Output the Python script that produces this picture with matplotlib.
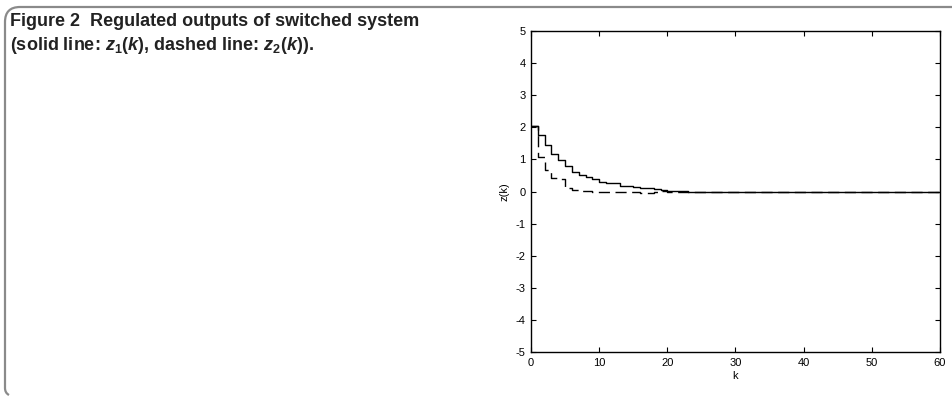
import numpy as np
import matplotlib.pyplot as plt
from matplotlib.path import Path
from matplotlib.patches import PathPatch

plt.rcParams['font.family'] = ['Liberation Sans', 'DejaVu Sans']
plt.rcParams['axes.unicode_minus'] = False
plt.rcParams['mathtext.fontset'] = 'custom'
plt.rcParams['mathtext.bf'] = 'Liberation Sans:bold'
plt.rcParams['mathtext.bfit'] = 'Liberation Sans:bold:italic'
plt.rcParams['mathtext.it'] = 'Liberation Sans:italic'
plt.rcParams['mathtext.rm'] = 'Liberation Sans'

# regulated outputs (k = 0..60)
k = np.arange(0, 61)
z1_head = [2.03, 1.75, 1.44, 1.16, 0.99, 0.79, 0.60, 0.52, 0.45, 0.38,
           0.29, 0.26, 0.26, 0.18, 0.16, 0.13, 0.10, 0.11, 0.08, 0.06,
           0.03, 0.02, 0.01]
z2_head = [2.03, 1.07, 0.68, 0.42, 0.40, 0.10, 0.05, 0.03, 0.02, -0.02,
           -0.03, -0.03, -0.03, -0.03, -0.02, 0.00, -0.04, -0.04, 0.00, 0.01,
           0.00, -0.01, 0.00]
z1 = z1_head + [0.0] * (len(k) - len(z1_head))
z2 = z2_head + [-0.01] * (len(k) - len(z2_head))

xticks = [0, 10, 20, 30, 40, 50, 60]
yticks = [-5, -4, -3, -2, -1, 0, 1, 2, 3, 4, 5]

W, H = 953, 397
fig = plt.figure(figsize=(W / 100, H / 100), dpi=100)

# page frame (top and left rule with rounded corner)
def px(x, y):
    return (x / W, 1 - y / H)

verts = [px(953, 7), px(20, 7), px(5, 7), px(5, 22), px(5, 388), px(5, 393), px(9, 395)]
codes = [Path.MOVETO, Path.LINETO, Path.CURVE3, Path.CURVE3, Path.LINETO, Path.CURVE3, Path.CURVE3]
fig.add_artist(PathPatch(Path(verts, codes), transform=fig.transFigure,
                         facecolor='none', edgecolor='#8a8a8a', linewidth=1.6))

# caption
cap_font = ['Liberation Sans', 'DejaVu Sans']
fig.text(10 / W, 1 - 21 / H, 'Figure 2  Regulated outputs of switched system',
         fontsize=13, fontweight='bold', family=cap_font, va='center', ha='left', color='#222222')
fig.text(10 / W, 1 - 45 / H,
         r'(solid line: $\mathbfit{z}_{\mathbf{1}}\mathbf{(}\mathbfit{k}\mathbf{)}$, '
         r'dashed line: $\mathbfit{z}_{\mathbf{2}}\mathbf{(}\mathbfit{k}\mathbf{)}$).',
         fontsize=13, fontweight='bold', family=cap_font, va='center', ha='left', color='#222222')

ax = fig.add_axes([531 / W, 1 - 352 / H, (940 - 531) / W, (352 - 31) / H])
ax.step(k, z1, where='post', color='black', linewidth=1.0)
ax.step(k, z2, where='post', color='black', linewidth=1.0, linestyle=(0, (8, 4)))

ax.set_xlim(0, 60)
ax.set_ylim(-5, 5)
ax.set_xticks(xticks)
ax.set_yticks(yticks)
ax.tick_params(direction='in', top=True, right=True, labelsize=8, length=3.5, width=0.8, pad=4)
for s in ax.spines.values():
    s.set_linewidth(1.0)
ax.set_xlabel('k', fontsize=8, labelpad=2.5)
ax.set_ylabel('z(k)', fontsize=8, labelpad=4)

fig.savefig('out.png', dpi=100)
